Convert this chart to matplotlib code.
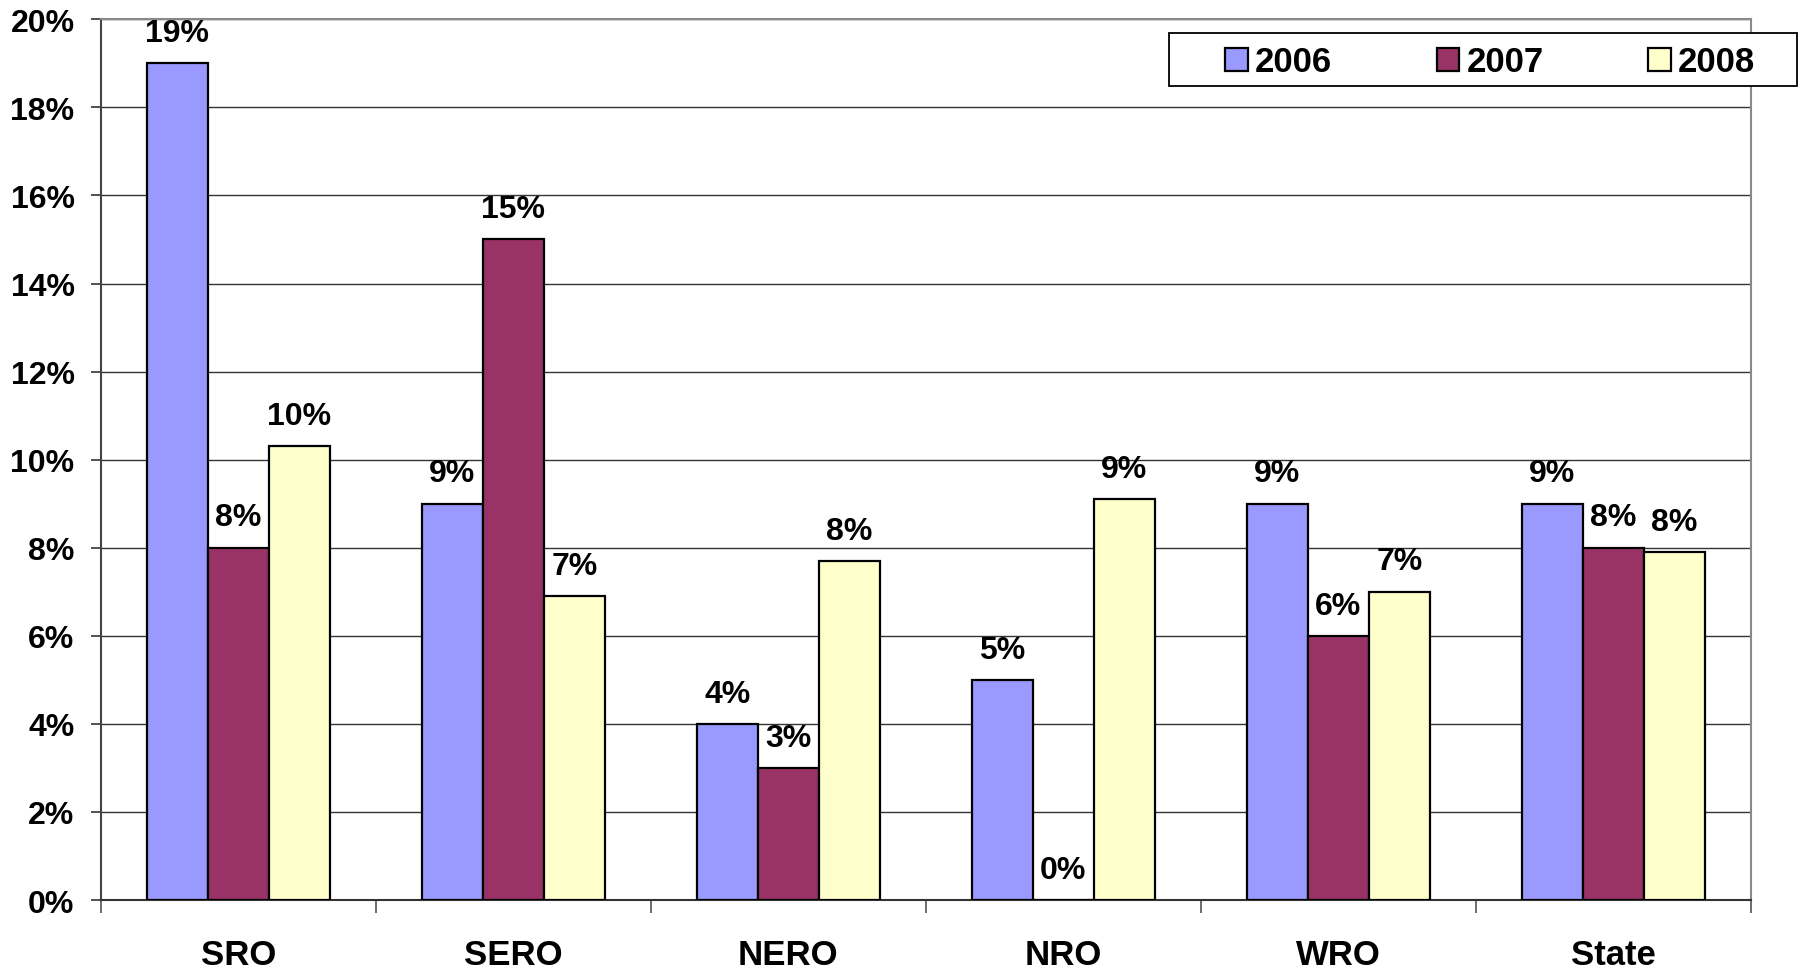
import numpy as np
import matplotlib
matplotlib.use("Agg")
import matplotlib.pyplot as plt
from matplotlib.patches import Rectangle
from matplotlib.ticker import FuncFormatter, FixedLocator

plt.rcParams["font.family"] = ["Liberation Sans", "DejaVu Sans"]
plt.rcParams["font.weight"] = "bold"

# datos (porcentaje)
regiones = ["SRO", "SERO", "NERO", "NRO", "WRO", "State"]
anios = ["2006", "2007", "2008"]
v2006 = [19.0, 9.0, 4.0, 5.0, 9.0, 9.0]
v2007 = [8.0, 15.0, 3.0, 0.0, 6.0, 8.0]
v2008 = [10.3, 6.9, 7.7, 9.1, 7.0, 7.9]

colores = ["#9999FF", "#993366", "#FFFFCC"]

W, H = 1803, 970
fig = plt.figure(figsize=(W / 100, H / 100), dpi=100)
ax = fig.add_axes([0.056, 0.0711, 0.915, 0.908])

x = np.arange(len(regiones))
ancho = 0.222
for i, (serie, col, nombre) in enumerate(zip([v2006, v2007, v2008], colores, anios)):
    pos = x + (i - 1) * ancho
    barras = ax.bar(pos, serie, width=ancho, color=col, edgecolor="black",
                    linewidth=1.6, label=nombre, zorder=3)
    for b, v in zip(barras, serie):
        ax.annotate(f"{v:.0f}%", (b.get_x() + b.get_width() / 2, v),
                    xytext=(0, 11), textcoords="offset points",
                    ha="center", va="bottom", fontsize=23, fontweight="bold")

ax.set_xlim(-0.5, len(regiones) - 0.5)
ax.set_ylim(0, 20)
ax.set_yticks(np.arange(0, 21, 2))
ax.yaxis.set_major_formatter(FuncFormatter(lambda v, _: f"{v:.0f}%"))
ax.grid(axis="y", color="#333333", linewidth=1.0, zorder=0)

# marcas entre categorias, etiquetas en el centro
ax.xaxis.set_major_locator(FixedLocator(np.arange(-0.5, len(regiones), 1.0)))
ax.xaxis.set_major_formatter(FuncFormatter(lambda v, _: ""))
ax.set_xticks(x, minor=True)
ax.set_xticklabels(regiones, minor=True)
ax.tick_params(axis="x", which="major", length=9, width=1.2, color="#555555")
ax.tick_params(axis="x", which="minor", length=0, pad=27, labelsize=25)
ax.tick_params(axis="y", length=7, width=1.2, pad=12, labelsize=23, color="#333333")
for t in ax.get_xticklabels(minor=True) + ax.get_yticklabels():
    t.set_fontweight("bold")

for lado in ["top", "right"]:
    ax.spines[lado].set_color("#8a8a8a")
    ax.spines[lado].set_linewidth(1.5)
ax.spines["left"].set_color("#444444")
ax.spines["left"].set_linewidth(1.5)
ax.spines["bottom"].set_color("#333333")
ax.spines["bottom"].set_linewidth(1.5)

# caja de la leyenda (sobresale del area del grafico)
caja = Rectangle((1169 / W, 1 - 87 / H), (1797 - 1169) / W, 53 / H,
                 transform=fig.transFigure, facecolor="white", edgecolor="black",
                 linewidth=1.3, zorder=5, clip_on=False)
fig.add_artist(caja)
leg = fig.legend(loc="center left", bbox_to_anchor=(1225 / W, 1 - 63 / H),
                 ncol=3, frameon=False, fontsize=25,
                 handlelength=0.65, handleheight=0.65, handletextpad=0.22,
                 columnspacing=3.0, borderpad=0, borderaxespad=0)
leg.set_zorder(6)
for t in leg.get_texts():
    t.set_fontweight("bold")

fig.savefig("out.png", dpi=100)
